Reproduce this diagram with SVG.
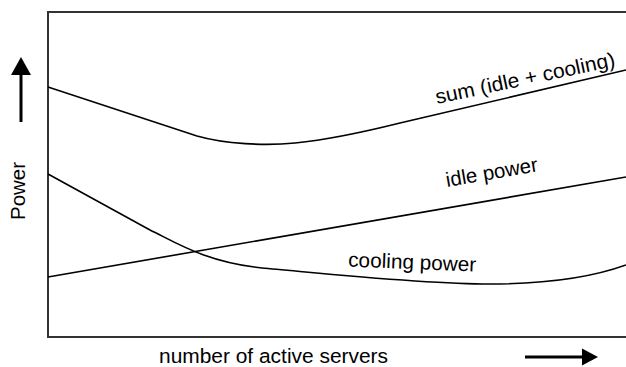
<svg xmlns="http://www.w3.org/2000/svg" width="626" height="367" viewBox="0 0 626 367">
<style>
.t{font-family:"Liberation Sans",Arial,sans-serif;font-size:20.5px;fill:#000}
.c{fill:none;stroke:#000;stroke-width:1.6}
</style>
<rect width="626" height="367" fill="#fff"/>
<g id="frame">
<rect x="48" y="12" width="600" height="325" fill="none" stroke="#333" stroke-width="2"/>
</g>
<g id="axes">
<line x1="21" y1="122" x2="21" y2="72" stroke="#000" stroke-width="3"/>
<polygon points="21,57 11,75 31,75" fill="#000"/>
<line x1="525" y1="357" x2="584" y2="357" stroke="#000" stroke-width="3"/>
<polygon points="598,357 582,348.5 582,365.5" fill="#000"/>
<text class="t" x="25" y="191" text-anchor="middle" textLength="58" lengthAdjust="spacingAndGlyphs" transform="rotate(-90 25 191)">Power</text>
<text class="t" x="159" y="362.5" textLength="229" lengthAdjust="spacingAndGlyphs">number of active servers</text>
</g>
<g id="connectors">
<path id="sum" class="c" d="M48,87 L197,136 C225,144 265,146 295,143 C325,140 360,133 400,123 L626,70"/>
<path id="idle" class="c" d="M48,277 L626,177"/>
<path id="cooling" class="c" d="M48,174 L150,230 C175,242 205,262 262,268 C310,272 420,284 490,284 C540,284 590,278 626,265"/>
</g>
<g id="label-sum">
<text class="t" x="437" y="104" textLength="183" lengthAdjust="spacingAndGlyphs" transform="rotate(-12 437 104)">sum (idle + cooling)</text>
</g>
<g id="label-idle">
<text class="t" x="447" y="187" textLength="93" lengthAdjust="spacingAndGlyphs" transform="rotate(-9.8 447 187)">idle power</text>
</g>
<g id="label-cooling">
<text class="t" x="348" y="266.5" textLength="128" lengthAdjust="spacingAndGlyphs" transform="rotate(2.2 348 266.5)">cooling power</text>
</g>
</svg>
